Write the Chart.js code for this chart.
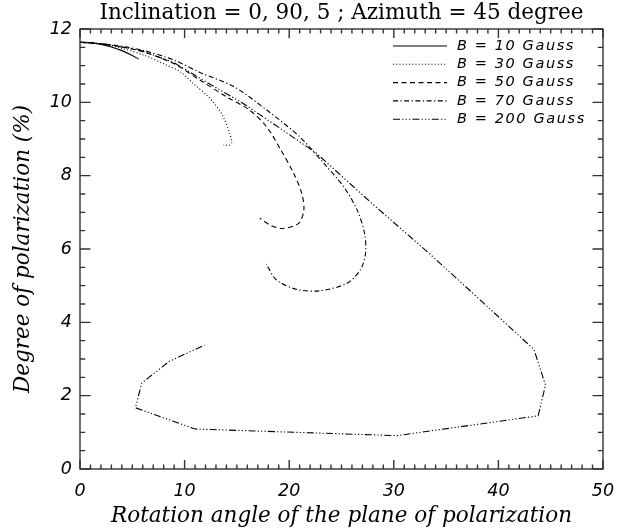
<!DOCTYPE html>
<html>
<head>
<meta charset="utf-8">
<script src="https://cdn.jsdelivr.net/npm/chart.js@4.4.1/dist/chart.umd.min.js"></script>
<style>
  html, body { margin: 0; padding: 0; background: #fff; }
</style>
</head>
<body>
<canvas id="chart" width="627" height="531"></canvas>
<script>
// Rotation angle (deg) vs degree of polarization (%), one curve per field strength
const b10Angle = [0, 1, 2, 3, 4, 5, 5.6];
const b10Pol = [11.64, 11.63, 11.58, 11.51, 11.41, 11.28, 11.18];

const b30Angle = [0, 2, 4, 6, 8, 9.6, 10.8, 12.1, 12.9, 13.7, 14.3, 14.5, 14.3, 13.7];
const b30Pol = [11.64, 11.6, 11.47, 11.3, 11.05, 10.83, 10.52, 10.2, 9.95, 9.61, 9.16, 8.9, 8.83, 8.84];

const b50Angle = [0, 3, 6, 9, 11.5, 14, 16.2, 17.85, 19.2, 20.4, 21.2, 21.4, 20.9, 19.4, 18.2, 17.2];
const b50Pol = [11.64, 11.56, 11.38, 11.05, 10.6, 10.15, 9.79, 9.33, 8.7, 8.08, 7.52, 7.06, 6.7, 6.56, 6.65, 6.84];

const b70Angle = [0, 3, 6, 9, 11.5, 14.7, 17.85, 21, 23.3, 25.2, 26.5, 27.2, 27.3, 26.8, 25.5, 22.9, 20.7, 18.8, 17.8];
const b70Pol = [11.64, 11.57, 11.42, 11.15, 10.81, 10.43, 9.79, 9.06, 8.34, 7.7, 7.06, 6.43, 5.88, 5.43, 5.06, 4.86, 4.9, 5.15, 5.59];

const b200Angle = [0, 3, 6, 9, 11.5, 15.6, 19.4, 22.6, 28, 33.5, 38.3, 43.4, 44.5, 43.8, 30.3, 11, 5.3, 5.9, 8.5, 11.9];
const b200Pol = [11.64, 11.56, 11.4, 11.08, 10.65, 9.97, 9.24, 8.61, 7.22, 5.85, 4.6, 3.26, 2.29, 1.45, 0.91, 1.09, 1.67, 2.34, 2.93, 3.38];

const seriesLabels = ['B = 10 Gauss', 'B = 30 Gauss', 'B = 50 Gauss', 'B = 70 Gauss', 'B = 200 Gauss'];
const xTickValues = [0, 10, 20, 30, 40, 50];
const yTickValues = [0, 2, 4, 6, 8, 10, 12];

const toPoints = (xs, ys) => xs.map((x, i) => ({ x, y: ys[i] }));

const lineStyles = [
  { dash: [], tension: 0.3 },
  { dash: [1, 2.2], tension: 0.3 },
  { dash: [5, 3.5], tension: 0.3 },
  { dash: [5, 2.5, 1.2, 2.5], tension: 0.3 },
  { dash: [7, 2.2, 1.2, 2.2, 1.2, 2.2, 1.2, 2.2], tension: 0 },
];

const curves = [
  [b10Angle, b10Pol],
  [b30Angle, b30Pol],
  [b50Angle, b50Pol],
  [b70Angle, b70Pol],
  [b200Angle, b200Pol],
];

const datasets = curves.map(([xs, ys], i) => ({
  label: seriesLabels[i],
  data: toPoints(xs, ys),
  showLine: true,
  pointRadius: 0,
  borderColor: '#000',
  borderWidth: 1.1,
  borderDash: lineStyles[i].dash,
  tension: lineStyles[i].tension,
}));

// box around the plot with inward major/minor ticks on all four sides
const frameTicks = {
  id: 'frameTicks',
  afterDraw(chart) {
    const { ctx, chartArea: a, scales: { x, y } } = chart;
    ctx.save();
    ctx.strokeStyle = '#333';
    ctx.lineWidth = 1.4;
    ctx.strokeRect(a.left, a.top, a.right - a.left, a.bottom - a.top);
    ctx.beginPath();
    for (let v = x.min; v <= x.max; v += 1) {
      const px = x.getPixelForValue(v);
      const len = v % 10 === 0 ? 9 : 4.5;
      ctx.moveTo(px, a.bottom); ctx.lineTo(px, a.bottom - len);
      ctx.moveTo(px, a.top); ctx.lineTo(px, a.top + len);
    }
    for (let v = y.min; v <= y.max; v += 0.5) {
      const py = y.getPixelForValue(v);
      const len = v % 2 === 0 ? 10.5 : 5.2;
      ctx.moveTo(a.left, py); ctx.lineTo(a.left + len, py);
      ctx.moveTo(a.right, py); ctx.lineTo(a.right - len, py);
    }
    ctx.stroke();
    ctx.restore();
  },
};

// legend in the upper right corner: a dashed sample then the label
const curveLegend = {
  id: 'curveLegend',
  afterDatasetsDraw(chart) {
    const { ctx, chartArea: a } = chart;
    ctx.save();
    ctx.font = 'italic 14.5px "DejaVu Sans"';
    ctx.letterSpacing = '1.6px';
    ctx.fillStyle = '#000';
    ctx.textBaseline = 'middle';
    chart.data.datasets.forEach((ds, i) => {
      const yy = a.top + 17 + i * 18.3;
      ctx.strokeStyle = '#000';
      ctx.lineWidth = 1.1;
      ctx.setLineDash(ds.borderDash);
      ctx.beginPath();
      ctx.moveTo(a.right - 210, yy);
      ctx.lineTo(a.right - 156, yy);
      ctx.stroke();
      ctx.fillText(ds.label, a.right - 146, yy);
    });
    ctx.restore();
  },
};

new Chart(document.getElementById('chart'), {
  type: 'scatter',
  data: { datasets },
  options: {
    responsive: false,
    animation: false,
    devicePixelRatio: 1,
    layout: { padding: { top: 0, right: 24, bottom: 0, left: 0 } },
    plugins: {
      legend: { display: false },
      tooltip: { enabled: false },
      title: {
        display: true,
        fullSize: false,
        text: 'Inclination = 0, 90, 5 ; Azimuth = 45 degree',
        color: '#000',
        font: { family: '"DejaVu Serif"', size: 21.5, weight: 'normal' },
        padding: { top: 1, bottom: 2.2 },
      },
    },
    scales: {
      x: {
        type: 'linear',
        min: 0,
        max: 50,
        grid: { display: false, drawTicks: false },
        border: { display: false },
        afterFit: (s) => { s.height = 62; },
        afterBuildTicks: (s) => { s.ticks = xTickValues.map((value) => ({ value })); },
        ticks: {
          color: '#000',
          padding: 12,
          font: { family: '"DejaVu Sans"', size: 17.5, style: 'italic' },
        },
        title: {
          display: true,
          text: 'Rotation angle of the plane of polarization',
          color: '#000',
          font: { family: '"DejaVu Serif"', size: 21.5, style: 'italic' },
          padding: { top: 0, bottom: 1.5 },
        },
      },
      y: {
        type: 'linear',
        min: 0,
        max: 12,
        grid: { display: false, drawTicks: false },
        border: { display: false },
        afterFit: (s) => { s.width = 80; },
        afterBuildTicks: (s) => { s.ticks = yTickValues.map((value) => ({ value })); },
        ticks: {
          color: '#000',
          padding: 8,
          font: { family: '"DejaVu Sans"', size: 17.5, style: 'italic' },
        },
        title: {
          display: true,
          text: 'Degree of polarization (%)',
          color: '#000',
          font: { family: '"DejaVu Serif"', size: 21.5, style: 'italic' },
          padding: { top: 11, bottom: 0 },
        },
      },
    },
  },
  plugins: [frameTicks, curveLegend],
});
</script>
</body>
</html>
